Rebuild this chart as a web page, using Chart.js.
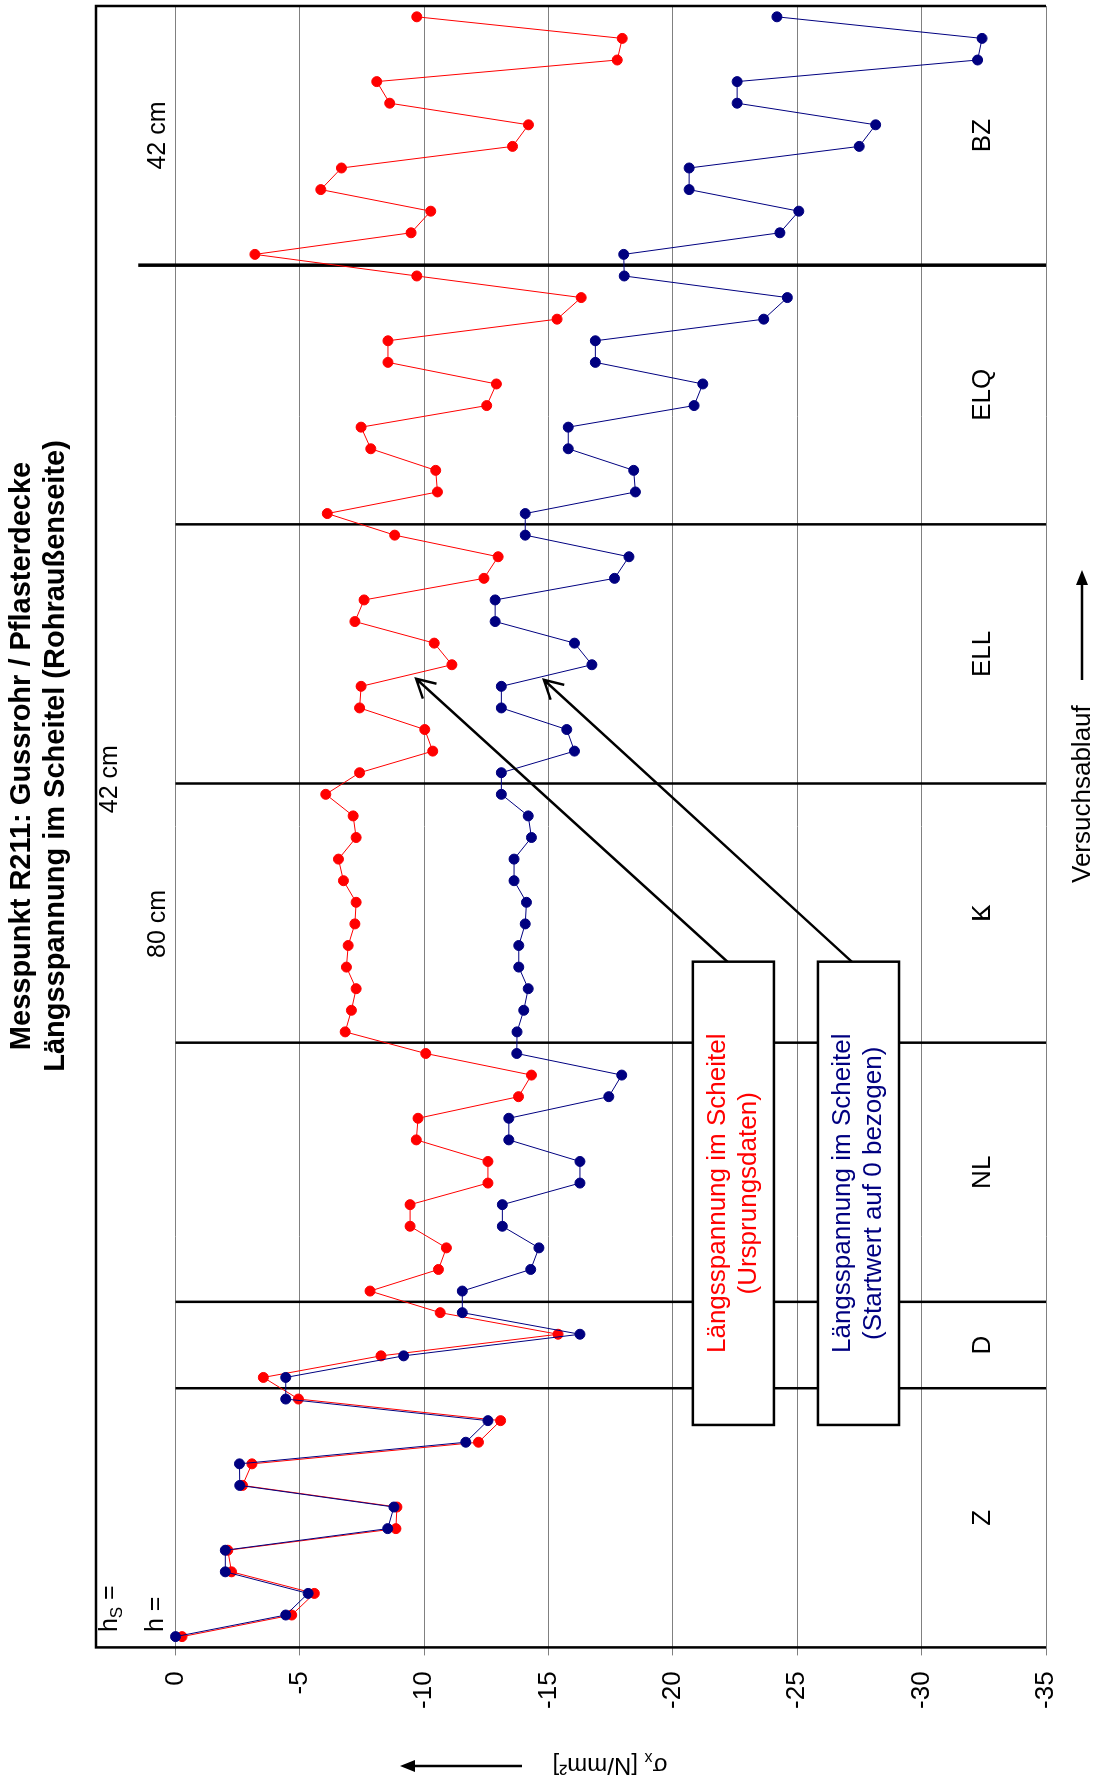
<!DOCTYPE html>
<html>
<head>
<meta charset="utf-8">
<script src="https://cdn.jsdelivr.net/npm/chart.js@4.4.0/dist/chart.umd.min.js"></script>
<style>
html, body { margin: 0; padding: 0; background: #fff; overflow: hidden; }
#wrap { position: absolute; left: 0; top: 0; width: 1782px; height: 1099px;
  transform-origin: 0 0; transform: translate(0, 1782px) rotate(-90deg); }
</style>
</head>
<body>
<div id="wrap"><canvas id="chart" width="1782" height="1099"></canvas></div>
<script>
var FONT = '"Liberation Sans", Arial, sans-serif';

var sections = ['Z', 'D', 'NL', 'K', 'ELL', 'ELQ', 'BZ'];
var sectionSizes = [12, 4, 12, 12, 12, 12, 12];
var yTicks = [0, -5, -10, -15, -20, -25, -30, -35];

// Längsspannung im Scheitel (Ursprungsdaten), red
var rawValues = [
  -0.26, -4.67, -5.58, -2.25, -2.10, -8.86, -8.90, -2.69, -3.07, -12.18, -13.07, -4.94,
  -3.53, -8.26, -15.38, -10.64,
  -7.82, -10.57, -10.89, -9.43, -9.43, -12.56, -12.56, -9.68, -9.75, -13.79, -14.31, -10.06,
  -6.82, -7.07, -7.26, -6.87, -6.94, -7.21, -7.26, -6.75, -6.55, -7.26, -7.14, -6.04,
  -7.40, -10.34, -10.02, -7.40, -7.46, -11.11, -10.40, -7.21, -7.58, -12.40, -12.97, -8.81,
  -6.10, -10.53, -10.46, -7.85, -7.46, -12.51, -12.90, -8.54, -8.54, -15.34, -16.31, -9.70,
  -3.19, -9.47, -10.26, -5.84, -6.67, -13.55, -14.19, -8.61, -8.09, -17.76, -17.96, -9.70
];
// Längsspannung im Scheitel (Startwert auf 0 bezogen), blue
var zeroValues = [
  0, -4.43, -5.33, -2.00, -2.00, -8.53, -8.78, -2.58, -2.57, -11.67, -12.56, -4.43,
  -4.43, -9.17, -16.26, -11.53,
  -11.53, -14.28, -14.61, -13.14, -13.14, -16.26, -16.26, -13.40, -13.40, -17.42, -17.94, -13.72,
  -13.73, -14.00, -14.18, -13.80, -13.80, -14.06, -14.11, -13.61, -13.61, -14.31, -14.18, -13.10,
  -13.10, -16.04, -15.73, -13.10, -13.10, -16.74, -16.04, -12.85, -12.85, -17.65, -18.23, -14.06,
  -14.06, -18.49, -18.42, -15.79, -15.79, -20.85, -21.20, -16.88, -16.88, -23.65, -24.60, -18.04,
  -18.02, -24.30, -25.06, -20.65, -20.65, -27.49, -28.15, -22.58, -22.58, -32.25, -32.43, -24.18
];

var labels = [];
sections.forEach(function(s, k) {
  for (var i = 1; i <= sectionSizes[k]; i++) labels.push(s + i);
});

function richText(ctx, parts, x, y, align) {
  // parts: [text, size, dy, bold]
  var w = 0;
  parts.forEach(function(p) {
    ctx.font = (p[3] ? 'bold ' : '') + p[1] + 'px ' + FONT;
    w += ctx.measureText(p[0]).width;
  });
  var cx = align === 'center' ? x - w / 2 : x;
  ctx.textAlign = 'left';
  ctx.textBaseline = 'alphabetic';
  parts.forEach(function(p) {
    ctx.font = (p[3] ? 'bold ' : '') + p[1] + 'px ' + FONT;
    ctx.fillText(p[0], cx, y + (p[2] || 0));
    cx += ctx.measureText(p[0]).width;
  });
  return w;
}

function openArrow(ctx, x0, y0, x1, y1) {
  var ang = Math.atan2(y0 - y1, x0 - x1);
  ctx.beginPath();
  ctx.moveTo(x0, y0); ctx.lineTo(x1, y1);
  ctx.moveTo(x1 + 21 * Math.cos(ang - 0.5), y1 + 21 * Math.sin(ang - 0.5));
  ctx.lineTo(x1, y1);
  ctx.lineTo(x1 + 21 * Math.cos(ang + 0.5), y1 + 21 * Math.sin(ang + 0.5));
  ctx.stroke();
}

function filledArrow(ctx, x0, y0, x1, y1) {
  var ang = Math.atan2(y1 - y0, x1 - x0);
  var hx = x1 - 15 * Math.cos(ang), hy = y1 - 15 * Math.sin(ang);
  ctx.beginPath();
  ctx.moveTo(x0, y0); ctx.lineTo(hx, hy);
  ctx.stroke();
  ctx.beginPath();
  ctx.moveTo(x1, y1);
  ctx.lineTo(hx + 6 * Math.sin(ang), hy - 6 * Math.cos(ang));
  ctx.lineTo(hx - 6 * Math.sin(ang), hy + 6 * Math.cos(ang));
  ctx.closePath();
  ctx.fill();
}

var decor = {
  id: 'decor',
  beforeDatasetsDraw: function(chart) {
    var ctx = chart.ctx, x = chart.scales.x, y = chart.scales.y, a = chart.chartArea;
    ctx.save();
    ctx.strokeStyle = '#000';
    var start = 0;
    for (var k = 0; k < sectionSizes.length - 1; k++) {
      start += sectionSizes[k];
      var px = x.getPixelForValue(start - 0.5);
      var last = k === sectionSizes.length - 2;
      ctx.lineWidth = last ? 3.5 : 2.5;
      ctx.beginPath();
      ctx.moveTo(px, y.getPixelForValue(last ? 1.5 : 0));
      ctx.lineTo(px, a.bottom);
      ctx.stroke();
    }
    ctx.lineWidth = 2.5;
    ctx.beginPath();
    ctx.moveTo(a.left, a.bottom);
    ctx.lineTo(a.left, a.top);
    ctx.lineTo(a.right, a.top);
    ctx.lineTo(a.right, a.bottom);
    ctx.stroke();
    ctx.restore();
  },
  afterDatasetsDraw: function(chart) {
    var ctx = chart.ctx, x = chart.scales.x, y = chart.scales.y;
    ctx.save();

    // arrows from the text boxes
    ctx.strokeStyle = '#000';
    ctx.lineWidth = 2.5;
    openArrow(ctx, x.getPixelForValue(31.24), y.getPixelForValue(-22.2), x.getPixelForValue(44.35), y.getPixelForValue(-9.67));
    openArrow(ctx, x.getPixelForValue(31.24), y.getPixelForValue(-27.2), x.getPixelForValue(44.3), y.getPixelForValue(-14.81));

    // text boxes
    var boxes = [
      { v0: -20.8, v1: -24.06, color: '#ff0000', lines: ['Längsspannung im Scheitel', '(Ursprungsdaten)'] },
      { v0: -25.83, v1: -29.09, color: '#000080', lines: ['Längsspannung im Scheitel', '(Startwert auf 0 bezogen)'] }
    ];
    boxes.forEach(function(b) {
      var L = x.getPixelForValue(9.8), R = x.getPixelForValue(31.25);
      var T = y.getPixelForValue(b.v0), B = y.getPixelForValue(b.v1);
      ctx.fillStyle = '#fff';
      ctx.fillRect(L, T, R - L, B - T);
      ctx.lineWidth = 2.5;
      ctx.strokeStyle = '#000';
      ctx.strokeRect(L, T, R - L, B - T);
      ctx.fillStyle = b.color;
      ctx.font = '26px ' + FONT;
      ctx.textAlign = 'center';
      ctx.textBaseline = 'alphabetic';
      var cx = (L + R) / 2, cy = (T + B) / 2;
      ctx.fillText(b.lines[0], cx, cy - 8);
      ctx.fillText(b.lines[1], cx, cy + 23);
    });
    ctx.restore();
  },
  afterDraw: function(chart) {
    var ctx = chart.ctx, x = chart.scales.x, y = chart.scales.y;
    ctx.save();
    ctx.fillStyle = '#000';
    ctx.strokeStyle = '#000';

    // section names
    ctx.font = '26px ' + FONT;
    ctx.textBaseline = 'alphabetic';
    var start = 0;
    sections.forEach(function(s, k) {
      var cx = x.getPixelForValue(start + (sectionSizes[k] - 1) / 2);
      var by = y.getPixelForValue(-32.75);
      if (s === 'K') {
        var w = ctx.measureText('K').width;
        ctx.textAlign = 'left';
        ctx.fillText('K', cx - w / 2, by);
        ctx.fillText('L', cx - w / 2, by);
      } else {
        ctx.textAlign = 'center';
        ctx.fillText(s, cx, by);
      }
      start += sectionSizes[k];
    });

    // cover heights
    richText(ctx, [['h', 25], ['S', 17, 5], [' =', 25]], x.getPixelForValue(0.21), y.getPixelForValue(2.36), 'left');
    richText(ctx, [['h =', 25]], x.getPixelForValue(0.21), y.getPixelForValue(0.51), 'left');
    richText(ctx, [['42 cm', 25]], x.getPixelForValue(39.7), y.getPixelForValue(2.36), 'center');
    richText(ctx, [['80 cm', 25]], x.getPixelForValue(33.0), y.getPixelForValue(0.43), 'center');
    richText(ctx, [['42 cm', 25]], x.getPixelForValue(69.5), y.getPixelForValue(0.43), 'center');

    // title
    richText(ctx, [['Messpunkt R211: Gussrohr / Pflasterdecke', 29, 0, true]], 1026, 30, 'center');
    richText(ctx, [['Längsspannung im Scheitel (Rohraußenseite)', 29, 0, true]], 1026, 64, 'center');

    // x axis title with arrow
    richText(ctx, [['Versuchsablauf', 26]], 899, 1090, 'left');
    ctx.lineWidth = 2.5;
    filledArrow(ctx, 1102, 1082, 1212, 1082);

    // y axis title with arrow
    ctx.translate(16, 610);
    ctx.rotate(-Math.PI / 2);
    richText(ctx, [['σ', 24], ['x', 16, 5], [' [N/mm²]', 24]], 0, 8, 'center');
    filledArrow(ctx, 88, 0, 210, 0);
    ctx.restore();
  }
};

var chart = new Chart(document.getElementById('chart').getContext('2d'), {
  type: 'line',
  data: {
    labels: labels,
    datasets: [{
      label: 'Längsspannung im Scheitel (Startwert auf 0 bezogen)',
      data: zeroValues,
      borderColor: '#000080',
      backgroundColor: '#000080',
      pointBorderColor: '#000080',
      borderWidth: 1,
      pointRadius: 5,
      pointBorderWidth: 1,
      order: 0
    }, {
      label: 'Längsspannung im Scheitel (Ursprungsdaten)',
      data: rawValues,
      borderColor: '#ff0000',
      backgroundColor: '#ff0000',
      pointBorderColor: '#ff0000',
      borderWidth: 1,
      pointRadius: 5,
      pointBorderWidth: 1,
      order: 1
    }]
  },
  options: {
    responsive: false,
    animation: false,
    devicePixelRatio: 1,
    layout: { padding: { top: 96, right: 6, bottom: 53, left: 0 } },
    plugins: {
      legend: { display: false },
      title: { display: false },
      tooltip: { enabled: false }
    },
    scales: {
      x: {
        type: 'category',
        offset: true,
        ticks: { display: false },
        grid: { display: false },
        border: { display: false },
        afterFit: function(s) { s.height = 0; }
      },
      y: {
        min: -35,
        max: 3.2,
        afterBuildTicks: function(s) {
          s.ticks = yTicks.map(function(v) { return { value: v }; });
        },
        ticks: { font: { family: FONT, size: 26 }, color: '#000', padding: 16 },
        grid: { color: '#808080', lineWidth: 1, tickLength: 8 },
        border: { display: false },
        afterFit: function(s) { s.width = 134.6; }
      }
    }
  },
  plugins: [decor]
});
</script>
</body>
</html>
